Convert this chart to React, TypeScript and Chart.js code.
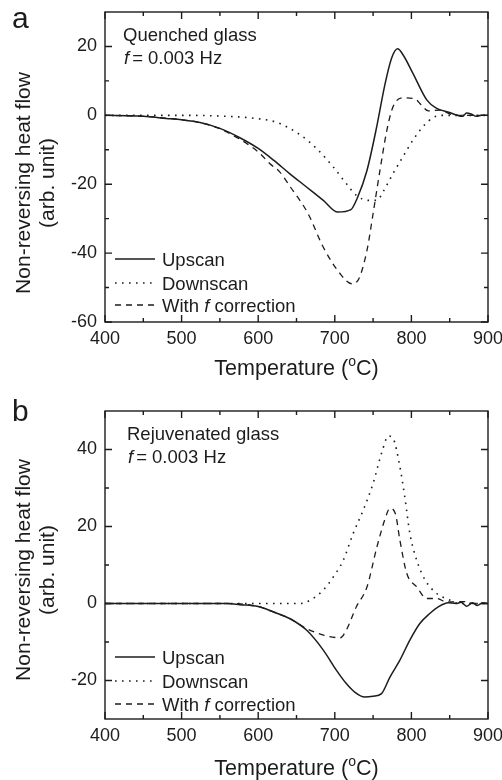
import React, { useEffect, useRef } from "react";
import { Chart, registerables } from "chart.js";

Chart.register(...registerables);

const FONT = '"Liberation Sans", Arial, Helvetica, sans-serif';
const INK = "#1c1c1c";

// ---- shared axis data ----
const xMajorTicks = [400, 500, 600, 700, 800, 900];
const xMinorTicks = [450, 550, 650, 750, 850];
const seriesLabels = ["Upscan", "Downscan", "With f correction"];

// ---- panel a: quenched glass ----
const aYTicks = [-60, -40, -20, 0, 20];
const aYMinor = [-50, -30, -10, 10, 30];
const aUpT = [400, 450, 480, 500, 524, 550, 576, 600, 620, 641, 663, 685, 704, 721, 729, 742, 755, 765, 774, 782, 789, 802, 820, 833, 850, 860, 867, 872, 878, 885, 892, 900];
const aUpV = [0, -0.3, -0.9, -1.3, -2.1, -3.8, -6.5, -9.6, -13, -16.9, -20.8, -24.7, -28.1, -27.4, -24.2, -16, -3, 8.5, 16.5, 19.3, 17.6, 12.2, 4.5, 2.0, 0.8, 0, -0.3, 0.7, 0.4, -0.3, 0, 0];
const aDownT = [400, 500, 560, 600, 625, 655, 676, 698, 715, 728, 744, 755, 763, 776, 789, 802, 815, 829, 842, 900];
const aDownV = [0, 0, -0.3, -1.0, -2.1, -5.7, -9.6, -15, -19.8, -23.2, -24.7, -24.7, -22.2, -16.9, -12, -7.2, -3.3, -0.6, 0, 0];
const aCorrT = [400, 450, 500, 524, 550, 567, 585, 602, 615, 628, 642, 665, 685, 707, 722, 730, 742, 750, 759, 768, 776, 789, 805, 813, 822, 837, 852, 865, 900];
const aCorrV = [0, -0.3, -1.3, -2.1, -3.9, -5.8, -8.2, -11, -14, -16.4, -20.8, -28.5, -38.3, -46, -48.9, -48, -39.2, -28.5, -15.9, -4.3, 2.5, 5.1, 4.7, 3.0, 1.3, 1.5, 0.3, 0, 0];

// ---- panel b: rejuvenated glass ----
const bYTicks = [-20, 0, 20, 40];
const bYMinor = [-30, -10, 10, 30, 50];
const bUpT = [400, 560, 576, 600, 620, 641, 663, 685, 702, 715, 726, 739, 750, 761, 772, 785, 798, 811, 824, 835, 848, 858, 865, 872, 880, 886, 893, 900];
const bUpV = [0, 0, -0.3, -0.8, -2.2, -3.9, -6.9, -12.1, -17.3, -20.8, -23, -24.3, -24.1, -23.4, -19.1, -14.7, -9.5, -5.2, -2.6, -0.9, 0.2, 0, 0.3, -0.7, 0.2, -0.5, 0.2, 0];
const bDownT = [400, 655, 668, 685, 698, 711, 724, 737, 750, 761, 770, 776, 785, 792, 798, 807, 818, 833, 850, 862, 900];
const bDownV = [0, 0, 0.9, 3.5, 6.9, 11.2, 18.2, 24.2, 31.2, 39, 43.5, 42.9, 35.5, 26.8, 18.2, 11.2, 6.1, 2.6, 0.9, 0, 0];
const bCorrT = [400, 560, 600, 620, 641, 663, 685, 707, 715, 728, 742, 755, 765, 772, 779, 785, 794, 807, 820, 833, 846, 870, 880, 900];
const bCorrV = [0, 0, -0.8, -2.2, -3.9, -6.5, -8.2, -8.9, -6.9, -0.9, 4.3, 14.7, 21.6, 24.7, 23.4, 16.4, 7.8, 4.3, 1.3, 1.3, 0.4, 0.5, 0, 0];

type PanelCfg = {
  letter: string;
  title: string;
  yMin: number;
  yMax: number;
  yTicks: number[];
  yMinor: number[];
  series: { t: number[]; v: number[] }[];
  layout: {
    plotTop: number;
    plotBottom: number;
    letterBase: number;
    annoBase: [number, number];
    annoX: number;
    legendY: number[];
    xTitleBase: number;
    yTitleCY: number;
  };
};

const DASHES: number[][] = [[], [1.6, 5.4], [6, 5]];
const WIDTHS = [1.5, 1.6, 1.3];

const W = 502;
const H = 390;
const PLOT_LEFT = 105;
const PLOT_RIGHT = 488;
const TICK_FONT = 18;
const TEXT_FONT = 18.5;

function drawMixed(ctx: CanvasRenderingContext2D, parts: { text: string; italic?: boolean; size: number; dy?: number; gap?: number }[], x: number, y: number, align: "left" | "center") {
  const widths = parts.map((p) => {
    ctx.font = `${p.italic ? "italic " : ""}${p.size}px ${FONT}`;
    return ctx.measureText(p.text).width + (p.gap || 0);
  });
  const total = widths.reduce((a, b) => a + b, 0);
  let cx = align === "center" ? x - total / 2 : x;
  ctx.textAlign = "left";
  ctx.textBaseline = "alphabetic";
  parts.forEach((p, i) => {
    ctx.font = `${p.italic ? "italic " : ""}${p.size}px ${FONT}`;
    ctx.fillText(p.text, cx, y + (p.dy || 0));
    cx += widths[i];
  });
}

function makePlugin(P: PanelCfg) {
  return {
    id: "decor" + P.letter,
    afterDraw(chart: any) {
      const ctx: CanvasRenderingContext2D = chart.ctx;
      const a = chart.chartArea;
      const xs = chart.scales.x;
      const ys = chart.scales.y;
      ctx.save();
      ctx.strokeStyle = INK;
      ctx.fillStyle = INK;
      ctx.lineWidth = 1.4;
      ctx.setLineDash([]);
      ctx.strokeRect(a.left, a.top, a.right - a.left, a.bottom - a.top);
      ctx.beginPath();
      const tickX = (v: number, len: number) => {
        const p = xs.getPixelForValue(v);
        ctx.moveTo(p, a.bottom);
        ctx.lineTo(p, a.bottom - len);
        ctx.moveTo(p, a.top);
        ctx.lineTo(p, a.top + len);
      };
      const tickY = (v: number, len: number) => {
        const p = ys.getPixelForValue(v);
        ctx.moveTo(a.left, p);
        ctx.lineTo(a.left + len, p);
        ctx.moveTo(a.right, p);
        ctx.lineTo(a.right - len, p);
      };
      xMajorTicks.forEach((v) => tickX(v, 7));
      xMinorTicks.forEach((v) => tickX(v, 4));
      P.yTicks.forEach((v) => tickY(v, 7));
      P.yMinor.filter((v) => v > P.yMin && v < P.yMax).forEach((v) => tickY(v, 4));
      ctx.stroke();

      // panel letter
      ctx.font = `30px ${FONT}`;
      ctx.textAlign = "left";
      ctx.textBaseline = "alphabetic";
      ctx.fillText(P.letter, 12, P.layout.letterBase);

      // annotation
      ctx.font = `${TEXT_FONT}px ${FONT}`;
      ctx.fillText(P.title, P.layout.annoX, P.layout.annoBase[0]);
      drawMixed(
        ctx,
        [
          { text: "f", italic: true, size: TEXT_FONT, gap: 3 },
          { text: "= 0.003 Hz", size: TEXT_FONT },
        ],
        P.layout.annoX + 1,
        P.layout.annoBase[1],
        "left"
      );

      // legend
      P.layout.legendY.forEach((ly, i) => {
        ctx.beginPath();
        ctx.lineWidth = WIDTHS[i];
        ctx.setLineDash(DASHES[i]);
        ctx.moveTo(115, ly);
        ctx.lineTo(155, ly);
        ctx.stroke();
        ctx.setLineDash([]);
        const base = ly + 6.6;
        if (i < 2) {
          ctx.font = `${TEXT_FONT}px ${FONT}`;
          ctx.fillText(seriesLabels[i], 162, base);
        } else {
          const [w1, , w3] = seriesLabels[i].split(" ");
          drawMixed(
            ctx,
            [
              { text: w1 + " ", size: TEXT_FONT },
              { text: "f", italic: true, size: TEXT_FONT },
              { text: " " + w3, size: TEXT_FONT },
            ],
            162,
            base,
            "left"
          );
        }
      });

      // x title with superscript
      drawMixed(
        ctx,
        [
          { text: "Temperature (", size: 21.5 },
          { text: "o", size: 14, dy: -8.5 },
          { text: "C)", size: 21.5 },
        ],
        (a.left + a.right) / 2,
        P.layout.xTitleBase,
        "center"
      );

      // y title (two lines, rotated)
      ctx.font = `21px ${FONT}`;
      ctx.textAlign = "center";
      ctx.textBaseline = "alphabetic";
      const lines = ["Non-reversing heat flow", "(arb. unit)"];
      const bases = [30, 54];
      lines.forEach((t, i) => {
        ctx.save();
        ctx.translate(bases[i], P.layout.yTitleCY);
        ctx.rotate(-Math.PI / 2);
        ctx.fillText(t, 0, 0);
        ctx.restore();
      });
      ctx.restore();
    },
  };
}

function Panel({ P }: { P: PanelCfg }) {
  const ref = useRef<HTMLCanvasElement | null>(null);
  useEffect(() => {
    if (!ref.current) return;
    const chart = new Chart(ref.current, {
      type: "line",
      data: {
        datasets: P.series.map((s, i) => ({
          label: seriesLabels[i],
          data: s.t.map((t, j) => ({ x: t, y: s.v[j] })),
          borderColor: INK,
          borderWidth: WIDTHS[i],
          borderDash: DASHES[i],
          pointRadius: 0,
          fill: false,
          cubicInterpolationMode: "monotone" as const,
        })),
      },
      options: {
        responsive: false,
        animation: false,
        devicePixelRatio: 1,
        layout: { padding: { left: 0, right: W - PLOT_RIGHT, top: P.layout.plotTop, bottom: 0 } },
        plugins: { legend: { display: false }, tooltip: { enabled: false }, title: { display: false } },
        scales: {
          x: {
            type: "linear",
            min: 400,
            max: 900,
            grid: { display: false, drawTicks: false },
            border: { display: false },
            ticks: { font: { family: FONT, size: TICK_FONT }, color: INK, padding: 6, maxRotation: 0, autoSkip: false },
            afterBuildTicks: (s: any) => {
              s.ticks = xMajorTicks.map((v) => ({ value: v }));
            },
            afterFit: (s: any) => {
              s.height = H - P.layout.plotBottom;
              s.paddingLeft = 0;
              s.paddingRight = 0;
            },
          },
          y: {
            type: "linear",
            min: P.yMin,
            max: P.yMax,
            grid: { display: false, drawTicks: false },
            border: { display: false },
            ticks: { font: { family: FONT, size: TICK_FONT }, color: INK, padding: 8 },
            afterBuildTicks: (s: any) => {
              s.ticks = P.yTicks.map((v) => ({ value: v }));
            },
            afterFit: (s: any) => {
              s.width = PLOT_LEFT;
              s.paddingTop = 0;
              s.paddingBottom = 0;
            },
          },
        },
      },
      plugins: [makePlugin(P)],
    });
    return () => chart.destroy();
  }, [P]);
  return <canvas ref={ref} width={W} height={H} style={{ display: "block", width: W, height: H }} />;
}

const panelA: PanelCfg = {
  letter: "a",
  title: "Quenched glass",
  yMin: -60,
  yMax: 30,
  yTicks: aYTicks,
  yMinor: aYMinor,
  series: [
    { t: aUpT, v: aUpV },
    { t: aDownT, v: aDownV },
    { t: aCorrT, v: aCorrV },
  ],
  layout: {
    plotTop: 12,
    plotBottom: 322,
    letterBase: 28,
    annoBase: [40.6, 63.6],
    annoX: 123,
    legendY: [259, 283, 305],
    xTitleBase: 374.5,
    yTitleCY: 183,
  },
};

const panelB: PanelCfg = {
  letter: "b",
  title: "Rejuvenated glass",
  yMin: -30,
  yMax: 50,
  yTicks: bYTicks,
  yMinor: bYMinor,
  series: [
    { t: bUpT, v: bUpV },
    { t: bDownT, v: bDownV },
    { t: bCorrT, v: bCorrV },
  ],
  layout: {
    plotTop: 21,
    plotBottom: 329,
    letterBase: 31,
    annoBase: [49.6, 73],
    annoX: 127,
    legendY: [267, 291, 314],
    xTitleBase: 384.5,
    yTitleCY: 180,
  },
};

export default function App() {
  return (
    <div style={{ position: "absolute", left: 0, top: 0, width: W, height: 2 * H, background: "#fff" }}>
      <Panel P={panelA} />
      <Panel P={panelB} />
    </div>
  );
}
